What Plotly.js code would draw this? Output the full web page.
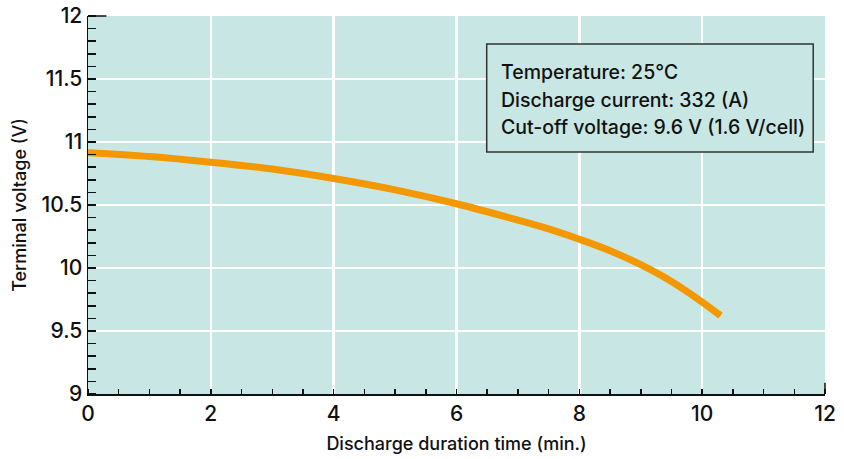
<!DOCTYPE html>
<html>
<head>
<meta charset="utf-8">
<script src="https://cdn.plot.ly/plotly-3.0.1.min.js"></script>
<style>html,body{margin:0;padding:0;background:#fff;}#chart{width:844px;height:459px;}</style>
</head>
<body>
<div id="chart"></div>
<script>
const timeMin = [0, 1, 2, 3, 4, 5, 6, 7, 7.5, 8, 8.5, 9, 9.5, 10, 10.3];
const voltage = [10.915, 10.885, 10.84, 10.785, 10.71, 10.62, 10.51, 10.38, 10.31, 10.228, 10.137, 10.026, 9.893, 9.73, 9.622];
const xTicks = [0, 2, 4, 6, 8, 10, 12];
const yTicks = [9, 9.5, 10, 10.5, 11, 11.5, 12];
const infoLines = ["Temperature: 25\u2103", "Discharge current: 332 (A)", "Cut-off voltage: 9.6 V (1.6 V/cell)"];

const font = 'Inter, Liberation Sans, Arial, sans-serif';
const trace = {
  x: timeMin, y: voltage, type: 'scatter', mode: 'lines',
  line: {color: '#f39800', width: 7, shape: 'spline', smoothing: 1},
  hoverinfo: 'skip'
};
const lineYs = [0.852, 0.778, 0.706];
const annotations = infoLines.map((t, i) => ({
  xref: 'paper', yref: 'paper', x: 0.557, y: lineYs[i], xanchor: 'left', yanchor: 'middle',
  text: t, showarrow: false, font: {family: font, size: 19.5, color: '#111', weight: 500}
}));
const layout = {
  width: 844, height: 459,
  margin: {l: 88, r: 19, t: 16, b: 65},
  paper_bgcolor: '#ffffff', plot_bgcolor: '#c8e7e4',
  showlegend: false,
  font: {family: font, color: '#111'},
  xaxis: {
    range: [0, 12], tickvals: xTicks, ticktext: xTicks.map(String),
    showgrid: true, gridcolor: '#ffffff', gridwidth: 2.5,
    zeroline: false, showline: true, linecolor: '#111', linewidth: 1.5,
    ticks: '', tickfont: {size: 21, family: font, color: '#111', weight: 500},
    minor: {dtick: 0.5, tick0: 0, ticks: 'inside', ticklen: 5, tickcolor: '#111', tickwidth: 1.5, showgrid: false},
    title: {text: 'Discharge duration time (min.)', font: {size: 18, family: font, color: '#111', weight: 500}, standoff: 12},
    fixedrange: true
  },
  yaxis: {
    range: [9, 12], tickvals: yTicks, ticktext: yTicks.map(String),
    showgrid: true, gridcolor: '#ffffff', gridwidth: 2.5,
    zeroline: false, showline: true, linecolor: '#111', linewidth: 1.5,
    ticks: '', tickfont: {size: 21, family: font, color: '#111', weight: 500},
    minor: {dtick: 0.1, tick0: 9, ticks: 'inside', ticklen: 8, tickcolor: '#111', tickwidth: 1.5, showgrid: false},
    title: {text: 'Terminal voltage (V)', font: {size: 18, family: font, color: '#111', weight: 500}, standoff: 10},
    fixedrange: true
  },
  shapes: [
    {type: 'rect', xref: 'paper', yref: 'paper', x0: 0.541, x1: 0.984, y0: 0.640, y1: 0.926,
     line: {color: '#333', width: 1.5}, fillcolor: '#c8e7e4', layer: 'above'},
    {type: 'line', xref: 'paper', yref: 'paper', x0: 0, x1: 0.025, y0: 1, y1: 1, line: {color: '#111', width: 1.5}},
    {type: 'line', xref: 'paper', yref: 'paper', x0: 1, x1: 1, y0: 0, y1: 0.03, line: {color: '#111', width: 1.5}}
  ],
  annotations: annotations
};
Plotly.newPlot('chart', [trace], layout, {displayModeBar: false, staticPlot: true});
</script>
</body>
</html>
